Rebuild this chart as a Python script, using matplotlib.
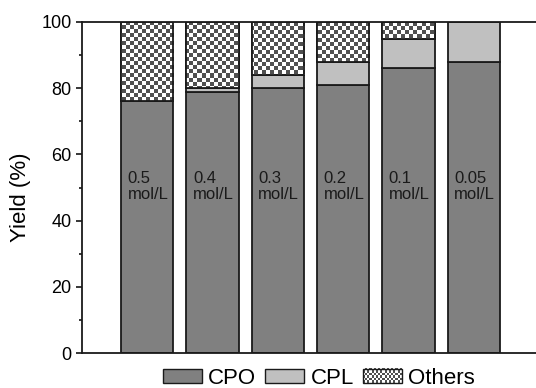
import numpy as np
import matplotlib
matplotlib.use('Agg')
import matplotlib.pyplot as plt
from matplotlib.colors import ListedColormap, Normalize
from matplotlib.patches import Rectangle
from matplotlib.legend_handler import HandlerBase
from matplotlib.image import BboxImage
from matplotlib.transforms import Bbox, TransformedBbox
from matplotlib.ticker import MultipleLocator

plt.rcParams['font.family'] = ['Liberation Sans', 'DejaVu Sans']

# yields (%) for each concentration
conc = ['0.5', '0.4', '0.3', '0.2', '0.1', '0.05']
cpo = [76, 79, 80, 81, 86, 88]
cpl = [0, 1, 4, 7, 9, 12]
others = [24, 20, 16, 12, 5, 0]

c_cpo = '#808080'
c_cpl = '#c0c0c0'
check_cmap = ListedColormap(['#ffffff', '#505050'])
check_norm = Normalize(0, 1)


def checker(h, w, cell=2):
    yy, xx = np.indices((h, w)) // cell
    return (yy + xx) % 2


class CheckerHandler(HandlerBase):
    # legend box filled with the same checker pattern as the bars
    def create_artists(self, legend, orig_handle, xdescent, ydescent,
                       width, height, fontsize, trans):
        bb = TransformedBbox(Bbox.from_bounds(-xdescent, -ydescent, width, height), trans)
        img = BboxImage(bb, cmap=check_cmap, norm=check_norm, interpolation='nearest')
        img.set_data(checker(6, 18, 1))
        edge = Rectangle((-xdescent, -ydescent), width, height, fill=False,
                         edgecolor='#1a1a1a', lw=1.0, transform=trans)
        return [img, edge]


fig = plt.figure(figsize=(5.36, 3.88), dpi=100)
ax = fig.add_axes([82 / 536, 35 / 388, 457 / 536, 331 / 388])

x = np.arange(1, len(conc) + 1)
w = 0.8
ec = '#1a1a1a'
b1 = ax.bar(x, cpo, w, color=c_cpo, edgecolor=ec, lw=1.3, label='CPO', zorder=2)
b2 = ax.bar(x, cpl, w, bottom=cpo, color=c_cpl, edgecolor=ec, lw=1.3, label='CPL', zorder=2)
bot = np.array(cpo) + np.array(cpl)
b3 = ax.bar(x, others, w, bottom=bot, color='white', edgecolor=ec, lw=1.3, label='Others', zorder=2)

ax.set_xlim(0, 7)
ax.set_ylim(0, 100)

# checker fill for the "Others" segments
pat = checker(166, 229)
for p in b3.patches:
    if p.get_height() <= 0:
        continue
    im = ax.imshow(pat, cmap=check_cmap, norm=check_norm, interpolation='nearest',
                   extent=(0, 7, 0, 100), aspect='auto', zorder=2.5)
    im.set_clip_path(p)
    ax.add_patch(Rectangle(p.get_xy(), p.get_width(), p.get_height(), fill=False,
                           edgecolor=ec, lw=1.3, zorder=3))
ax.set_xlim(0, 7)
ax.set_ylim(0, 100)

for xi, c in zip(x, conc):
    ax.text(xi - w / 2 + 0.1, 55.0, c + '\nmol/L', fontsize=12, va='top', ha='left',
            linespacing=1.05, color='#1a1a1a', zorder=4)

ax.set_xticks([])
ax.yaxis.set_major_locator(MultipleLocator(20))
ax.yaxis.set_minor_locator(MultipleLocator(10))
ax.tick_params(axis='y', which='major', length=4.5, width=1.1, labelsize=13, pad=3)
ax.tick_params(axis='y', which='minor', length=2.5, width=1.1)
for s in ax.spines.values():
    s.set_linewidth(1.3)
    s.set_color('#1a1a1a')

ax.set_ylabel('Yield (%)', fontsize=16)
ax.yaxis.set_label_coords(-0.112, 0.47)

handles = [Rectangle((0, 0), 1, 1, facecolor=c_cpo, edgecolor=ec, lw=1.0),
           Rectangle((0, 0), 1, 1, facecolor=c_cpl, edgecolor=ec, lw=1.0),
           Rectangle((0, 0), 1, 1, facecolor='white', edgecolor=ec, lw=1.0)]
fig.legend(handles, ['CPO', 'CPL', 'Others'], ncol=3, loc='center',
           bbox_to_anchor=(0.595, 0.025), frameon=False, fontsize=16,
           handlelength=1.75, handleheight=0.6, handletextpad=0.3,
           columnspacing=0.4, borderpad=0, borderaxespad=0,
           handler_map={handles[2]: CheckerHandler()})

fig.savefig('out.png', dpi=100)
